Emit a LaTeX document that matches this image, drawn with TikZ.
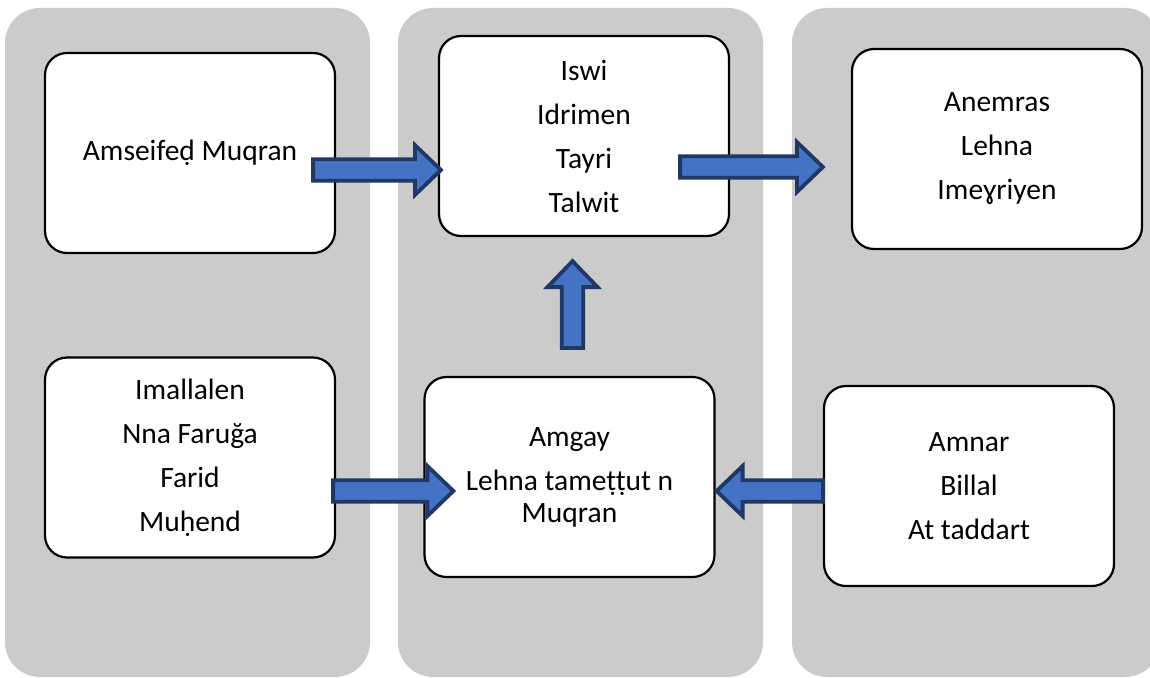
\documentclass[tikz,border=0pt]{standalone}
\usepackage{fontspec}
\setmainfont{Carlito}
\usetikzlibrary{calc}
\definecolor{colgray}{HTML}{CBCBCB}
\definecolor{arrowfill}{HTML}{4472C4}
\definecolor{arrowedge}{HTML}{1F3864}
\tikzset{
  column/.style={fill=colgray, draw=none, rounded corners=35pt},
  box/.style={draw=black, fill=white, line width=2.2pt, rounded corners=22pt,
    minimum width=290pt, minimum height=200pt, align=center, inner sep=0pt,
    font=\fontsize{29.5}{32}\selectfont},
  blockarrow/.style={draw=arrowedge, fill=arrowfill, line width=3.8pt,
    to path={let \p1=(\tikztostart), \p2=(\tikztotarget),
      \n1={atan2(\y2-\y1,\x2-\x1)}, \n2={veclen(\x2-\x1,\y2-\y1)} in
      ($(\p1)+(\n1+90:10.8pt)$) --
      ($(\p1)+(\n1:{\n2-26pt})+(\n1+90:10.8pt)$) --
      ($(\p1)+(\n1:{\n2-26pt})+(\n1+90:25pt)$) --
      (\p2) --
      ($(\p1)+(\n1:{\n2-26pt})+(\n1-90:25pt)$) --
      ($(\p1)+(\n1:{\n2-26pt})+(\n1-90:10.8pt)$) --
      ($(\p1)+(\n1-90:10.8pt)$) -- cycle}}
}
\begin{document}
\begin{tikzpicture}[x=1pt,y=-1pt]
\useasboundingbox (0,0) rectangle (1150,677);
\clip (0,0) rectangle (1150,677);
% columns
\fill[column] (5,8) rectangle (370,677);
\fill[column] (398,8) rectangle (763,677);
\fill[column] (792,8) rectangle (1160,677);
% boxes
\node[box] (A) at (190,153) {Amseifeḍ Muqran};
\node[box] (B) at (584,136) {Iswi\\[12pt]Idrimen\\[12pt]Tayri\\[12pt]Talwit};
\node[box] (C) at (997,149) {Anemras\\[12pt]Lehna\\[12pt]Imeɣriyen};
\node[box] (D) at (190,457.5) {Imallalen\\[12pt]Nna Faruğa\\[12pt]Farid\\[12pt]Muḥend};
\node[box] (E) at (569.5,477) {Amgay\\[12pt]Lehna tameṭṭut n\\Muqran};
\node[box] (F) at (969,486) {Amnar\\[12pt]Billal\\[12pt]At taddart};
% arrows
\draw[blockarrow] ($(A.east)+(-23,17)$) to ($(B.west)+(3,34)$);
\draw[blockarrow] ($(B.east)+(-50,31)$) to ($(C.west)+(-28,18)$);
\draw[blockarrow] ($(E.north)+(3,-28)$) to ($(B.south)+(-11.5,24)$);
\draw[blockarrow] ($(D.east)+(-3,33.5)$) to ($(E.west)+(30,14)$);
\draw[blockarrow] ($(F.west)+(0,5)$) to ($(E.east)+(1,14)$);
\end{tikzpicture}
\end{document}
